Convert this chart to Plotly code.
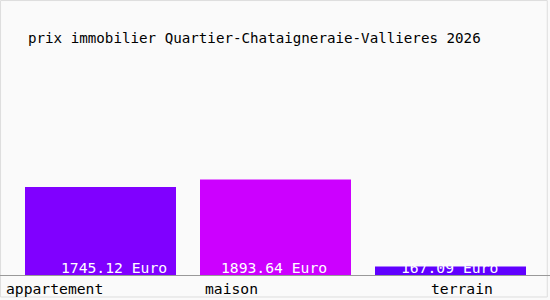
import plotly.graph_objects as go

categories = ["appartement", "maison", "terrain"]
values = [1745.12, 1893.64, 167.09]
title_text = "prix immobilier Quartier-Chataigneraie-Vallieres 2026"

bar_colors = ["#8000ff", "#cc00ff", "#6000ff"]
label_shift = [-46, -44, 11]
value_shift = [13, -2, -1]

FONT = "DejaVu Sans Mono"
W, H = 550, 300
B = 25
plot_h = H - B

fig = go.Figure(go.Bar(
    x=categories, y=values,
    marker=dict(color=bar_colors, line=dict(width=0)),
    width=151 / 175,
    hoverinfo="skip",
))

annotations = []
for i, (c, v) in enumerate(zip(categories, values)):
    annotations.append(dict(
        x=c, y=0, xref="x", yref="y", text=f"{v:.2f} Euro", showarrow=False,
        font=dict(family=FONT, size=14.7, color="white"),
        yanchor="middle", xanchor="center", yshift=8, xshift=value_shift[i]))
    annotations.append(dict(
        x=c, y=0, xref="x", yref="y", text=c, showarrow=False,
        font=dict(family=FONT, size=14.7, color="black"),
        yanchor="middle", xanchor="center", yshift=-13, xshift=label_shift[i]))

x0 = -100.5 / 175
fig.update_layout(
    width=W, height=H,
    margin=dict(l=0, r=0, t=0, b=B, pad=0),
    paper_bgcolor="#fafafa", plot_bgcolor="#fafafa",
    showlegend=False,
    title=dict(text=title_text, x=28 / W, xref="container", xanchor="left",
               y=1 - 38 / H, yref="container", yanchor="middle",
               font=dict(family=FONT, size=14.2, color="black")),
    xaxis=dict(range=[x0, x0 + W / 175], showticklabels=False, ticks="",
               showgrid=False, zeroline=False, showline=True,
               linecolor="#999999", linewidth=1, fixedrange=True),
    yaxis=dict(range=[0, plot_h / 0.05045], visible=False, showgrid=False,
               zeroline=False, fixedrange=True),
    annotations=annotations,
    shapes=[dict(type="rect", xref="paper", yref="paper",
                 x0=0.001, x1=0.995, y0=-(B - 3) / plot_h, y1=0.998,
                 line=dict(color="#dddddd", width=1), fillcolor="rgba(0,0,0,0)",
                 layer="below")],
)

fig.write_html("out.html", config={"displayModeBar": False})
